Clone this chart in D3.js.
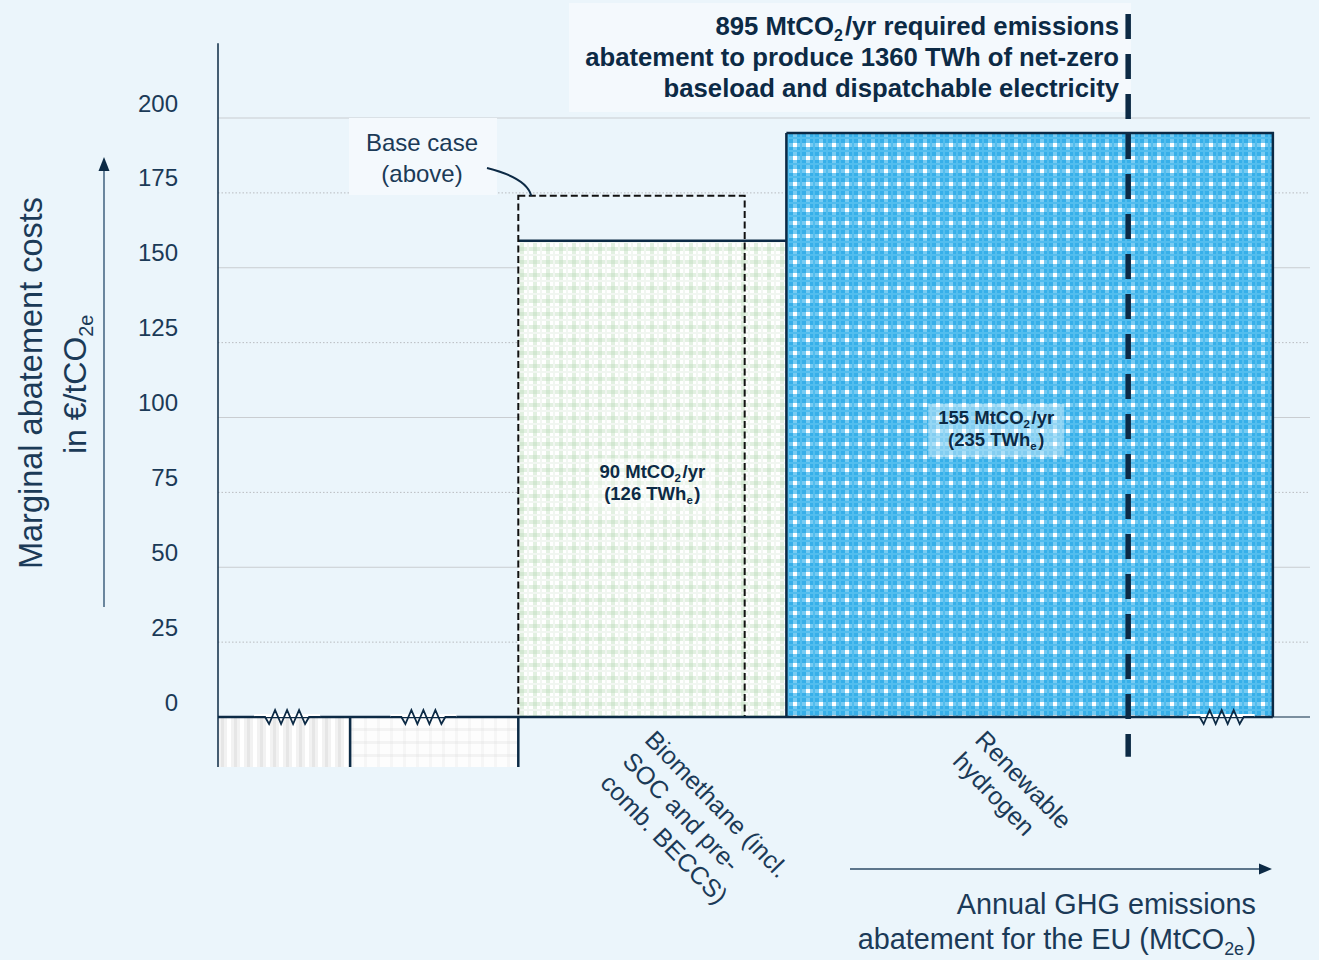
<!DOCTYPE html>
<html>
<head>
<meta charset="utf-8">
<script src="https://cdn.jsdelivr.net/npm/d3@7"></script>
<style>
  html, body { margin: 0; padding: 0; background: #EBF5FB; }
  svg { display: block; font-family: "Liberation Sans", Arial, sans-serif; }
</style>
</head>
<body>
<svg id="chart" width="1319" height="960"></svg>
<script>
// ---- Data -------------------------------------------------------------
// Abatement options, left to right along the cost curve
const categoryLines   = [[], [], ["Biomethane (incl.", "SOC and pre-", "comb. BECCS)"], ["Renewable", "hydrogen"]];
const abatementMt     = [285, 365, 90, 220];       // bar widths, MtCO2/yr (axis is broken)
const costEurPerT     = [-30, -25, 159, 195];      // marginal abatement cost, EUR/tCO2e
const labelMtCO2      = [null, null, 90, 155];     // annotated abatement
const labelTWh        = [null, null, 126, 235];    // annotated electricity
const categoryLabelMt = [null, null, 692, 825];    // where each category name starts on the x axis
const breakMt         = [149, 444, 937];           // axis-break marks

const baseCaseMt   = 76;    // biomethane base case width
const baseCaseCost = 174;   // biomethane base case cost

const requiredMt  = 895;
const requiredTWh = 1360;

const yTicks = [0, 25, 50, 75, 100, 125, 150, 175, 200];

// ---- Layout -----------------------------------------------------------
const svg = d3.select("#chart");
const plotLeft = 218, plotRight = 1310;
const navy = "#0c2a45";
const textNavy = "#1b3a57";

// cumulative bar edges in Mt
const edges = [0];
abatementMt.forEach((w, i) => edges.push(edges[i] + w));
const bars = abatementMt.map((w, i) => ({
  i, start: edges[i], end: edges[i + 1], cost: costEurPerT[i],
  lines: categoryLines[i], mt: labelMtCO2[i], twh: labelTWh[i], labelAt: categoryLabelMt[i]
}));

// Broken (polylinear) abatement axis: each segment gets its own share of the width
const xDomain = [edges[0], edges[1], edges[2], edges[3], requiredMt, edges[4], edges[4] + 25];
const xShares = [0, 0.121, 0.275, 0.5205, 0.8335, 0.966, 1];
const x = d3.scaleLinear()
  .domain(xDomain)
  .range(xShares.map(s => plotLeft + s * (plotRight - plotLeft)));

const y = d3.scaleLinear().domain([0, 200]).range([717, 118]);
const yBottom = -16.7, yTop = 225;
const yc = v => y(Math.max(yBottom, Math.min(yTop, v)));

// ---- Patterns ---------------------------------------------------------
const defs = svg.append("defs");
function pattern(id, bg, cells) {
  const p = defs.append("pattern").attr("id", id)
    .attr("patternUnits", "userSpaceOnUse").attr("width", 13).attr("height", 13);
  p.append("rect").attr("width", 13).attr("height", 13).attr("fill", bg);
  cells.forEach(c => p.append("rect").attr("x", c[0]).attr("y", c[1])
    .attr("width", c[2]).attr("height", c[3]).attr("fill", c[4]));
}
pattern("pStripes", "#ffffff", [
  [0, 0, 3, 13, "#e6e6e6"], [3, 0, 3, 13, "#f2f2f2"], [10, 0, 3, 13, "#f2f2f2"]
]);
pattern("pGrid", "#fdfdfd", [
  [0, 0, 13, 3, "#f3f3f3"], [0, 0, 3, 13, "#f6f6f6"], [0, 0, 3, 3, "#eeeeee"]
]);
pattern("pGreen", "#ffffff", [
  [0, 0, 13, 4, "#e2f0e1"], [0, 0, 4, 13, "#e2f0e1"], [0, 0, 4, 4, "#d2e7d1"],
  [7, 0, 2, 13, "#f1f6f1"], [0, 7, 13, 2, "#f1f6f1"]
]);
pattern("pBlue", "#36afe9", [
  [0, 0, 13, 4, "#78cbf2"], [0, 0, 4, 13, "#78cbf2"], [0, 0, 4, 4, "#ffffff"],
  [7, 0, 2, 13, "#52bdee"], [0, 7, 13, 2, "#52bdee"]
]);
const fills = ["url(#pStripes)", "url(#pGrid)", "url(#pGreen)", "url(#pBlue)"];

// ---- Title box --------------------------------------------------------
svg.append("rect").attr("x", 569).attr("y", 3).attr("width", 562).attr("height", 109)
  .attr("fill", "#F4F9FD");

// ---- Gridlines --------------------------------------------------------
svg.append("g").selectAll("line").data(yTicks.filter(v => v > 0)).join("line")
  .attr("x1", plotLeft).attr("x2", plotRight)
  .attr("y1", d => y(d)).attr("y2", d => y(d))
  .attr("stroke", d => d % 50 === 0 ? "#c9cdd1" : "#b9bcc0")
  .attr("stroke-width", 1)
  .attr("stroke-dasharray", d => d % 50 === 0 ? null : "1.5,2");

// ---- Bars -------------------------------------------------------------
const gBars = svg.append("g");
gBars.selectAll("rect").data(bars).join("rect")
  .attr("x", d => x(d.start))
  .attr("width", d => x(d.end) - x(d.start))
  .attr("y", d => Math.min(yc(d.cost), y(0)))
  .attr("height", d => Math.abs(yc(d.cost) - y(0)))
  .attr("fill", (d, i) => fills[i]);

// bar outlines: top edge at the cost level, sides down to zero / axis bottom
const outline = d3.path();
bars.forEach(d => {
  const x0 = x(d.start), x1 = x(d.end), yt = yc(d.cost), y0 = y(0);
  if (d.cost > 0) {
    outline.moveTo(x0, yt); outline.lineTo(x1, yt); outline.lineTo(x1, y0);
    if (d.i === 3) { outline.moveTo(x0, y0); outline.lineTo(x0, yt); }
  } else {
    outline.moveTo(x1, y0); outline.lineTo(x1, yt);
  }
});
gBars.append("path").attr("d", outline.toString())
  .attr("fill", "none").attr("stroke", navy).attr("stroke-width", 2.5);

// base case (dashed)
svg.append("rect")
  .attr("x", x(edges[2])).attr("y", y(baseCaseCost))
  .attr("width", x(edges[2] + baseCaseMt) - x(edges[2]))
  .attr("height", y(0) - y(baseCaseCost))
  .attr("fill", "none").attr("stroke", "#111").attr("stroke-width", 2)
  .attr("stroke-dasharray", "7,3.5");

// ---- Axes -------------------------------------------------------------
svg.append("line").attr("x1", plotLeft).attr("x2", plotLeft)
  .attr("y1", y(yTop)).attr("y2", y(yBottom))
  .attr("stroke", navy).attr("stroke-width", 1.5);
svg.append("line").attr("x1", plotLeft).attr("x2", x(edges[4]))
  .attr("y1", y(0)).attr("y2", y(0))
  .attr("stroke", navy).attr("stroke-width", 2.5);
svg.append("line").attr("x1", x(edges[4])).attr("x2", plotRight)
  .attr("y1", y(0)).attr("y2", y(0))
  .attr("stroke", navy).attr("stroke-width", 1.2);

svg.append("g").selectAll("text").data(yTicks).join("text")
  .attr("x", 178).attr("y", d => y(d) - 15)
  .attr("text-anchor", "end").attr("dominant-baseline", "central")
  .attr("font-size", 24).attr("fill", textNavy)
  .text(d => d);

// axis-break marks
const gBreak = svg.append("g");
breakMt.forEach(m => {
  const cx = x(m), y0 = y(0);
  gBreak.append("line").attr("x1", cx - 33).attr("x2", cx + 33)
    .attr("y1", y0 - 1.5).attr("y2", y0 - 1.5)
    .attr("stroke", "#ffffff").attr("stroke-width", 3);
  const zz = d3.path();
  zz.moveTo(cx - 33, y0); zz.lineTo(cx - 22, y0);
  [-18, -12, -6, 0, 6, 12, 18].forEach((dx, k) => zz.lineTo(cx + dx, k % 2 === 0 ? y0 + 7 : y0 - 7));
  zz.lineTo(cx + 22, y0); zz.lineTo(cx + 33, y0);
  gBreak.append("path").attr("d", zz.toString())
    .attr("fill", "none").attr("stroke", navy).attr("stroke-width", 1.8)
    .attr("stroke-linejoin", "miter");
});

// required abatement marker
svg.append("line").attr("x1", x(requiredMt)).attr("x2", x(requiredMt))
  .attr("y1", 14).attr("y2", y(-13.3))
  .attr("stroke", navy).attr("stroke-width", 5.5)
  .attr("stroke-dasharray", "25,15");

// ---- Text helpers -----------------------------------------------------
// parts: array of [string, isSubscript]
function richText(sel, parts, size) {
  parts.forEach(([s, sub]) => {
    if (sub) {
      sel.append("tspan").attr("font-size", size * 0.62).attr("dy", size * 0.22).text(s);
      sel.append("tspan").attr("font-size", size).attr("dy", -size * 0.22).text("\u200A");
    } else {
      sel.append("tspan").text(s);
    }
  });
}

// ---- Title ------------------------------------------------------------
const titleSize = 25.7;
const titleLines = [
  [[`${requiredMt} MtCO`, 0], ["2", 1], ["/yr required emissions", 0]],
  [[`abatement to produce ${requiredTWh} TWh of net-zero`, 0]],
  [["baseload and dispatchable electricity", 0]]
];
titleLines.forEach((parts, k) => {
  const t = svg.append("text").attr("x", 1119).attr("y", 35 + k * 31)
    .attr("text-anchor", "end").attr("font-size", titleSize).attr("font-weight", "bold")
    .attr("fill", navy);
  richText(t, parts, titleSize);
});

// ---- Base case callout ------------------------------------------------
svg.append("rect").attr("x", 349).attr("y", 118).attr("width", 148).attr("height", 77)
  .attr("fill", "#F4F9FD");
["Base case", "(above)"].forEach((s, k) => {
  svg.append("text").attr("x", 422).attr("y", 151 + k * 31)
    .attr("text-anchor", "middle").attr("font-size", 24).attr("fill", textNavy).text(s);
});
svg.append("path")
  .attr("d", `M487,168 Q527,178 ${x(edges[2]) + 13},${y(baseCaseCost)}`)
  .attr("fill", "none").attr("stroke", navy).attr("stroke-width", 2);

// ---- Value labels inside bars -----------------------------------------
const valueSize = 18.5;
bars.filter(d => d.mt !== null).forEach(d => {
  const inner = breakMt.find(m => m > d.start && m < d.end);
  const cx = (x(d.start) + x(inner !== undefined ? inner - 7 : d.end)) / 2;
  const cy = y(d.cost / 2) - 1;
  const g = svg.append("g");
  const box = g.append("rect").attr("fill", "#ffffff").attr("fill-opacity", 0.38);
  const t1 = g.append("text").attr("x", cx).attr("y", cy).attr("text-anchor", "middle")
    .attr("font-size", valueSize).attr("font-weight", "bold").attr("fill", navy);
  richText(t1, [[`${d.mt} MtCO`, 0], ["2", 1], ["/yr", 0]], valueSize);
  const t2 = g.append("text").attr("x", cx).attr("y", cy + 22).attr("text-anchor", "middle")
    .attr("font-size", valueSize).attr("font-weight", "bold").attr("fill", navy);
  richText(t2, [[`(${d.twh} TWh`, 0], ["e", 1], [")", 0]], valueSize);
  const bb = g.node().getBBox();
  box.attr("x", bb.x - 10).attr("y", bb.y - 3).attr("width", bb.width + 20).attr("height", bb.height + 8);
});

// ---- Category labels (rotated) ----------------------------------------
bars.filter(d => d.lines.length).forEach(d => {
  const g = svg.append("g")
    .attr("transform", `translate(${x(d.labelAt)},${y(0) + 24}) rotate(45.8)`);
  d.lines.forEach((s, k) => {
    g.append("text").attr("x", 0).attr("y", k * 31)
      .attr("font-size", 25).attr("fill", textNavy).text(s);
  });
});

// ---- Axis titles ------------------------------------------------------
// x arrow
svg.append("line").attr("x1", 850).attr("x2", 1262).attr("y1", 869).attr("y2", 869)
  .attr("stroke", "#2c4a66").attr("stroke-width", 1.5);
svg.append("path").attr("d", "M1272,869 L1259,863.5 L1259,874.5 Z").attr("fill", navy);
const axisTitleSize = 28.8;
svg.append("text").attr("x", 1256).attr("y", 914).attr("text-anchor", "end")
  .attr("font-size", axisTitleSize).attr("fill", textNavy).text("Annual GHG emissions");
const xt2 = svg.append("text").attr("x", 1256).attr("y", 949).attr("text-anchor", "end")
  .attr("font-size", axisTitleSize).attr("fill", textNavy);
richText(xt2, [["abatement for the EU (MtCO", 0], ["2e", 1], [")", 0]], axisTitleSize);

// y arrow
svg.append("line").attr("x1", 104).attr("x2", 104).attr("y1", 607).attr("y2", 168)
  .attr("stroke", "#5d7a93").attr("stroke-width", 1.8);
svg.append("path").attr("d", "M104,157 L98.5,171 L109.5,171 Z").attr("fill", navy);
svg.append("text").attr("transform", "translate(42,383) rotate(-90)")
  .attr("text-anchor", "middle").attr("font-size", 32.5).attr("fill", textNavy)
  .text("Marginal abatement costs");
const yt2 = svg.append("text").attr("transform", "translate(86,383) rotate(-90)")
  .attr("text-anchor", "middle").attr("font-size", 32).attr("fill", textNavy);
richText(yt2, [["in \u20AC/tCO", 0], ["2e", 1]], 32);
</script>
</body>
</html>
